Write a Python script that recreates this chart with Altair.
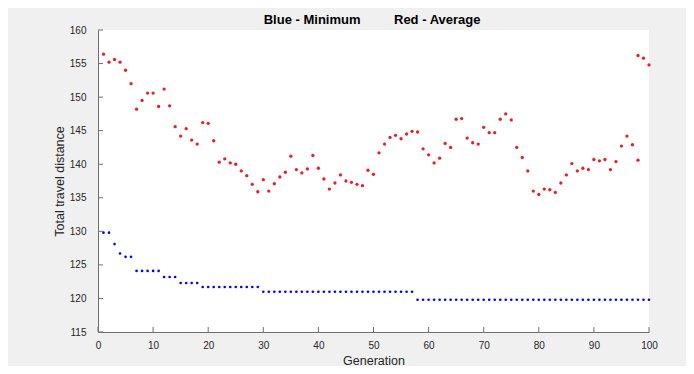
import altair as alt
import pandas as pd

# ---- data ----
generations = [
    1, 2, 3, 4, 5, 6, 7, 8, 9, 10, 11, 12, 13, 14, 15, 16, 17, 18, 19, 20,
    21, 22, 23, 24, 25, 26, 27, 28, 29, 30, 31, 32, 33, 34, 35, 36, 37, 38, 39, 40,
    41, 42, 43, 44, 45, 46, 47, 48, 49, 50, 51, 52, 53, 54, 55, 56, 57, 58, 59, 60,
    61, 62, 63, 64, 65, 66, 67, 68, 69, 70, 71, 72, 73, 74, 75, 76, 77, 78, 79, 80,
    81, 82, 83, 84, 85, 86, 87, 88, 89, 90, 91, 92, 93, 94, 95, 96, 97, 98, 99, 100,
]

min_distance = [
    129.8, 129.8, 128.1, 126.7, 126.2, 126.2, 124.1, 124.1, 124.1, 124.1,
    124.1, 123.2, 123.2, 123.2, 122.3, 122.3, 122.3, 122.3, 121.7, 121.7,
    121.7, 121.7, 121.7, 121.7, 121.7, 121.7, 121.7, 121.7, 121.7, 121.0,
    121.0, 121.0, 121.0, 121.0, 121.0, 121.0, 121.0, 121.0, 121.0, 121.0,
    121.0, 121.0, 121.0, 121.0, 121.0, 121.0, 121.0, 121.0, 121.0, 121.0,
    121.0, 121.0, 121.0, 121.0, 121.0, 121.0, 121.0, 119.8, 119.8, 119.8,
    119.8, 119.8, 119.8, 119.8, 119.8, 119.8, 119.8, 119.8, 119.8, 119.8,
    119.8, 119.8, 119.8, 119.8, 119.8, 119.8, 119.8, 119.8, 119.8, 119.8,
    119.8, 119.8, 119.8, 119.8, 119.8, 119.8, 119.8, 119.8, 119.8, 119.8,
    119.8, 119.8, 119.8, 119.8, 119.8, 119.8, 119.8, 119.8, 119.8, 119.8,
]

avg_distance = [
    156.4, 155.2, 155.6, 155.2, 154.0, 152.0, 148.2, 149.5, 150.6, 150.6,
    148.6, 151.2, 148.7, 145.6, 144.2, 145.3, 143.6, 143.0, 146.2, 146.1,
    143.5, 140.3, 140.8, 140.2, 140.0, 139.0, 138.3, 137.0, 135.9, 137.7,
    136.0, 137.1, 138.1, 138.8, 141.2, 139.2, 138.7, 139.3, 141.3, 139.4,
    137.8, 136.3, 137.2, 138.4, 137.5, 137.3, 137.0, 136.8, 139.1, 138.5,
    141.7, 143.0, 144.0, 144.3, 143.8, 144.5, 144.9, 144.8, 142.3, 141.4,
    140.2, 140.9, 143.1, 142.5, 146.7, 146.8, 143.9, 143.2, 143.0, 145.5,
    144.7, 144.7, 146.7, 147.5, 146.6, 142.5, 141.0, 139.0, 136.0, 135.5,
    136.3, 136.2, 135.8, 137.2, 138.4, 140.1, 139.0, 139.4, 139.2, 140.7,
    140.5, 140.7, 139.2, 140.4, 142.7, 144.2, 142.9, 140.6, 155.8, 154.8,
]

# an extra red dot drawn at generation 98
extra_avg_gen = [98]
extra_avg_val = [156.2]

x_ticks = [0, 10, 20, 30, 40, 50, 60, 70, 80, 90, 100]
y_ticks = [115, 120, 125, 130, 135, 140, 145, 150, 155, 160]

title_left = "Blue - Minimum"
title_right = "Red - Average"
x_title = "Generation"
y_title = "Total travel distance"

# ---- build tables ----
min_df = pd.DataFrame({"gen": generations, "dist": min_distance})
avg_df = pd.DataFrame({"gen": generations + extra_avg_gen,
                       "dist": avg_distance + extra_avg_val})
xt_df = pd.DataFrame({"gen": x_ticks})
yt_df = pd.DataFrame({"dist": y_ticks})

W, H = 551, 302
FONT = "Liberation Sans"
AX = "#262626"

x_scale = alt.Scale(domain=[0, 100], nice=False, zero=False)
y_scale = alt.Scale(domain=[115, 160], nice=False, zero=False)

x_axis = alt.Axis(values=x_ticks, format="d", title=x_title, ticks=False,
                  labelPadding=8, titlePadding=4, labelFontSize=10,
                  labelOverlap=False, labelFlush=False,
                  titleFontSize=12.5, titleFontWeight="normal")
y_axis = alt.Axis(values=y_ticks, format="d", title=y_title, ticks=False,
                  labelPadding=12, titlePadding=3, labelFontSize=10,
                  labelOverlap=False, labelFlush=False,
                  titleFontSize=12.5, titleFontWeight="normal")

X = alt.X("gen:Q", scale=x_scale, axis=x_axis, title=x_title)
Y = alt.Y("dist:Q", scale=y_scale, axis=y_axis, title=y_title)

blue = alt.Chart(min_df).mark_circle(size=7, color="#0000ff", opacity=1).encode(
    x=X, y=Y,
)

red = alt.Chart(avg_df).mark_circle(size=11, color="#ee1c25", opacity=1).encode(
    x=X, y=Y,
)

xticks_marks = alt.Chart(xt_df).mark_rule(color="#6f6f6f", strokeWidth=1).encode(
    x=X,
    y=alt.value(H),
    y2=alt.value(H - 5),
)
yticks_marks = alt.Chart(yt_df).mark_rule(color="#6f6f6f", strokeWidth=1).encode(
    y=Y,
    x=alt.value(0),
    x2=alt.value(5),
)

t1 = alt.Chart(pd.DataFrame({"s": [title_left]})).mark_text(
    align="right", baseline="alphabetic", fontSize=13, fontWeight="bold",
    font=FONT, color="#000000"
).encode(text="s:N", x=alt.value(262.5), y=alt.value(-6))

t2 = alt.Chart(pd.DataFrame({"s": [title_right]})).mark_text(
    align="left", baseline="alphabetic", fontSize=13, fontWeight="bold",
    font=FONT, color="#000000"
).encode(text="s:N", x=alt.value(296), y=alt.value(-6))

chart = alt.layer(
    blue, red, xticks_marks, yticks_marks, t1, t2
).properties(
    width=W, height=H,
    autosize=alt.AutoSizeParams(type="none"),
    padding={"left": 90, "top": 22, "right": 37, "bottom": 34},
).configure(
    background="#f0f0f0",
).configure_view(
    fill="white", stroke=None,
).configure_axis(
    grid=False, domainColor="#6f6f6f", domainWidth=1, labelOverlap=False,
    labelColor=AX, titleColor=AX, labelFont=FONT, titleFont=FONT,
)

chart.save("out.html", embed_options={"renderer": "svg", "actions": False})
